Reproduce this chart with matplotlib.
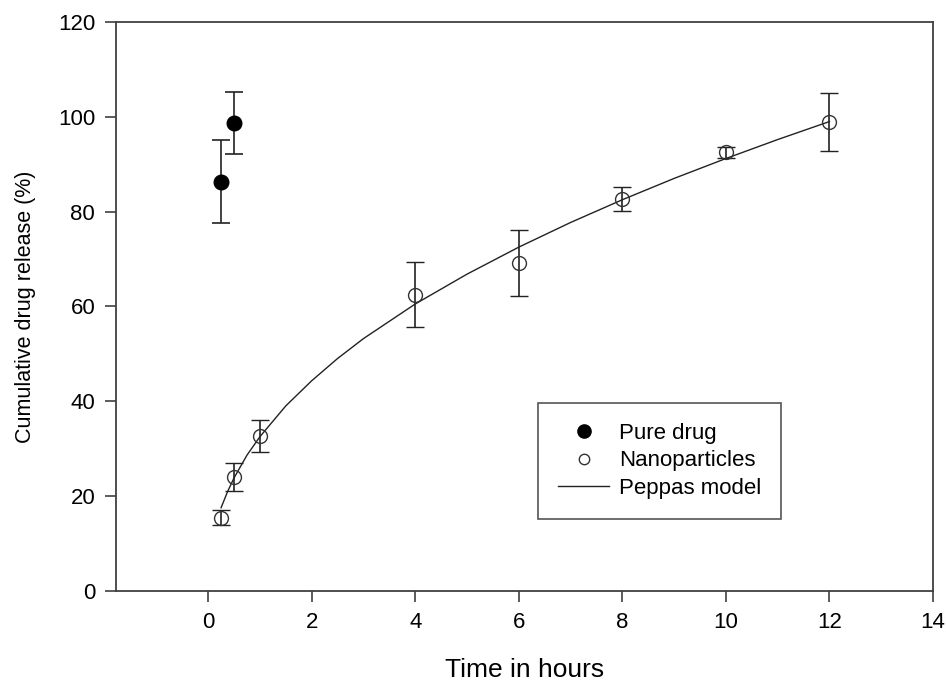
import matplotlib
matplotlib.use('Agg')
import matplotlib.pyplot as plt
from matplotlib.lines import Line2D

plt.rcParams.update({
    'font.family': ['Liberation Sans', 'DejaVu Sans'],
    'font.size': 15,
})

# Pure drug
pure_t = [0.25, 0.5]
pure_y = [86.3, 98.7]
pure_err = [8.7, 6.5]

# Nanoparticles
nano_t = [0.25, 0.5, 1, 4, 6, 8, 10, 12]
nano_y = [15.4, 24.0, 32.6, 62.5, 69.2, 82.7, 92.5, 98.9]
nano_err = [1.6, 3.0, 3.4, 6.8, 7.0, 2.5, 1.2, 6.1]

# Peppas model curve
model_t = [0.25, 0.375, 0.5, 0.75, 1, 1.5, 2, 2.5, 3, 4, 5, 6, 7, 8, 9, 10, 11, 12]
model_y = [17.5, 20.9, 23.8, 28.6, 32.5, 39.0, 44.3, 49.0, 53.2, 60.5, 66.8, 72.5,
           77.7, 82.5, 87.0, 91.2, 95.2, 99.0]

fig = plt.figure(figsize=(9.46, 6.82), dpi=100)
ax = fig.add_axes([0.1226, 0.1339, 0.8637, 0.8338])

ecol = '#222222'
ax.plot(model_t, model_y, color='#222222', lw=1.0, zorder=2)
ax.errorbar(nano_t, nano_y, yerr=nano_err, fmt='o', ms=10, mfc='none', mec='#333333',
            mew=1.0, ecolor=ecol, elinewidth=1.2, capsize=6.5, capthick=1.2, zorder=3)
ax.errorbar(pure_t, pure_y, yerr=pure_err, fmt='o', ms=10.5, mfc='black', mec='black',
            ecolor=ecol, elinewidth=1.2, capsize=6.5, capthick=1.2, zorder=3)

ax.set_xlim(-1.78, 14)
ax.set_ylim(0, 120)
ax.set_xticks(range(0, 15, 2))
ax.set_yticks(range(0, 121, 20))
ax.tick_params(direction='out', length=8, width=1.2, color='#404040', labelsize=16, pad=7)
for s in ax.spines.values():
    s.set_color('#404040')
    s.set_linewidth(1.3)

ax.set_xlabel('Time in hours', fontsize=19, labelpad=18)
ax.set_ylabel('Cumulative drug release (%)', fontsize=15.5, labelpad=16)

handles = [
    Line2D([], [], marker='o', ls='none', ms=9.5, mfc='black', mec='black'),
    Line2D([], [], marker='o', ls='none', ms=7.5, mfc='white', mec='#333333', mew=1.0),
    Line2D([], [], color='#222222', lw=1.0),
]
leg = ax.legend(handles, ['Pure drug', 'Nanoparticles', 'Peppas model'],
                loc='lower left', bbox_to_anchor=(0.5165, 0.126), fontsize=16,
                frameon=True, fancybox=False, edgecolor='#555555', framealpha=1,
                handlelength=2.3, handletextpad=0.45, labelspacing=0.3,
                borderpad=0.9, borderaxespad=0)
leg.get_frame().set_linewidth(1.2)

fig.savefig('out.png', dpi=100)
